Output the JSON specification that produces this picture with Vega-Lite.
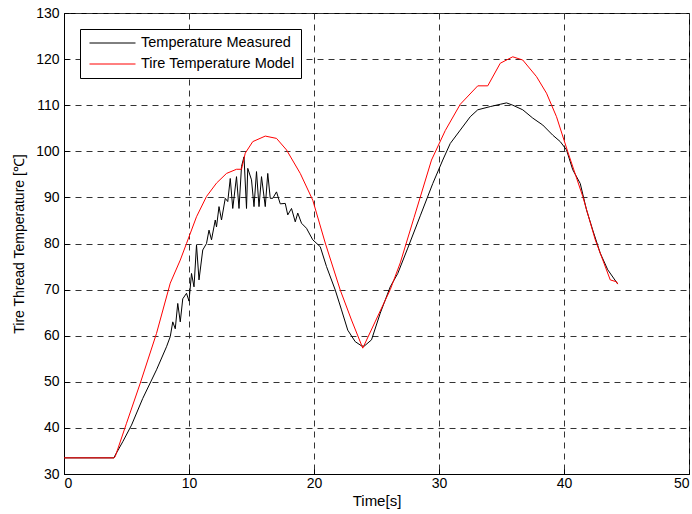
{
  "$schema": "https://vega.github.io/schema/vega-lite/v6.json",
  "width": 625,
  "height": 461,
  "autosize": {"type": "none"},
  "padding": {"left": 64, "top": 13, "right": 3, "bottom": 40},
  "background": "white",
  "config": {
    "view": {"stroke": "black", "strokeWidth": 1},
    "font": "Liberation Sans",
    "axis": {
      "domainColor": "black",
      "grid": true,
      "gridColor": "#333",
      "gridDash": [6, 5],
      "gridOpacity": 1,
      "gridWidth": 1,
      "ticks": true,
      "tickSize": -5,
      "tickColor": "black",
      "labelFont": "Liberation Sans",
      "labelFontSize": 14,
      "labelColor": "black",
      "titleFont": "Liberation Sans",
      "titleFontWeight": "normal",
      "titleColor": "black"
    }
  },
  "data": {"values": [
    {"t": 0, "v": 33.5, "s": "Temperature Measured"},
    {"t": 4.0, "v": 33.5, "s": "Temperature Measured"},
    {"t": 4.1, "v": 34.1, "s": "Temperature Measured"},
    {"t": 4.7, "v": 37, "s": "Temperature Measured"},
    {"t": 5.4, "v": 40.6, "s": "Temperature Measured"},
    {"t": 6.3, "v": 46.4, "s": "Temperature Measured"},
    {"t": 7.4, "v": 52.6, "s": "Temperature Measured"},
    {"t": 8.2, "v": 57.6, "s": "Temperature Measured"},
    {"t": 8.5, "v": 59.8, "s": "Temperature Measured"},
    {"t": 8.7, "v": 63, "s": "Temperature Measured"},
    {"t": 8.9, "v": 61.5, "s": "Temperature Measured"},
    {"t": 9.1, "v": 67, "s": "Temperature Measured"},
    {"t": 9.3, "v": 63, "s": "Temperature Measured"},
    {"t": 9.5, "v": 68, "s": "Temperature Measured"},
    {"t": 9.8, "v": 69.2, "s": "Temperature Measured"},
    {"t": 10.0, "v": 67.5, "s": "Temperature Measured"},
    {"t": 10.2, "v": 73.5, "s": "Temperature Measured"},
    {"t": 10.4, "v": 70.6, "s": "Temperature Measured"},
    {"t": 10.6, "v": 79.7, "s": "Temperature Measured"},
    {"t": 10.8, "v": 72.1, "s": "Temperature Measured"},
    {"t": 11.1, "v": 78.6, "s": "Temperature Measured"},
    {"t": 11.4, "v": 80, "s": "Temperature Measured"},
    {"t": 11.6, "v": 82.9, "s": "Temperature Measured"},
    {"t": 11.8, "v": 80.8, "s": "Temperature Measured"},
    {"t": 12.1, "v": 85.1, "s": "Temperature Measured"},
    {"t": 12.2, "v": 83.6, "s": "Temperature Measured"},
    {"t": 12.4, "v": 88, "s": "Temperature Measured"},
    {"t": 12.6, "v": 85.1, "s": "Temperature Measured"},
    {"t": 12.9, "v": 89.8, "s": "Temperature Measured"},
    {"t": 13.1, "v": 89.1, "s": "Temperature Measured"},
    {"t": 13.3, "v": 94.1, "s": "Temperature Measured"},
    {"t": 13.5, "v": 87.6, "s": "Temperature Measured"},
    {"t": 13.8, "v": 94.5, "s": "Temperature Measured"},
    {"t": 14.0, "v": 87.6, "s": "Temperature Measured"},
    {"t": 14.2, "v": 96.7, "s": "Temperature Measured"},
    {"t": 14.4, "v": 98.8, "s": "Temperature Measured"},
    {"t": 14.6, "v": 87.6, "s": "Temperature Measured"},
    {"t": 14.7, "v": 96.3, "s": "Temperature Measured"},
    {"t": 15.0, "v": 93.8, "s": "Temperature Measured"},
    {"t": 15.2, "v": 88, "s": "Temperature Measured"},
    {"t": 15.4, "v": 95.6, "s": "Temperature Measured"},
    {"t": 15.6, "v": 88, "s": "Temperature Measured"},
    {"t": 15.8, "v": 94.5, "s": "Temperature Measured"},
    {"t": 16.1, "v": 88, "s": "Temperature Measured"},
    {"t": 16.3, "v": 95.2, "s": "Temperature Measured"},
    {"t": 16.5, "v": 89.8, "s": "Temperature Measured"},
    {"t": 16.7, "v": 89.8, "s": "Temperature Measured"},
    {"t": 17.0, "v": 91.2, "s": "Temperature Measured"},
    {"t": 17.3, "v": 88.6, "s": "Temperature Measured"},
    {"t": 17.7, "v": 88.7, "s": "Temperature Measured"},
    {"t": 17.9, "v": 86.2, "s": "Temperature Measured"},
    {"t": 18.2, "v": 87.6, "s": "Temperature Measured"},
    {"t": 18.5, "v": 84.7, "s": "Temperature Measured"},
    {"t": 18.7, "v": 86.6, "s": "Temperature Measured"},
    {"t": 19.0, "v": 84.4, "s": "Temperature Measured"},
    {"t": 19.4, "v": 83.3, "s": "Temperature Measured"},
    {"t": 19.9, "v": 80.8, "s": "Temperature Measured"},
    {"t": 20.5, "v": 79.3, "s": "Temperature Measured"},
    {"t": 21.0, "v": 75, "s": "Temperature Measured"},
    {"t": 21.7, "v": 69.9, "s": "Temperature Measured"},
    {"t": 22.2, "v": 65.6, "s": "Temperature Measured"},
    {"t": 22.7, "v": 61.2, "s": "Temperature Measured"},
    {"t": 23.3, "v": 58.7, "s": "Temperature Measured"},
    {"t": 23.8, "v": 57.8, "s": "Temperature Measured"},
    {"t": 24.0, "v": 57.7, "s": "Temperature Measured"},
    {"t": 24.6, "v": 59.1, "s": "Temperature Measured"},
    {"t": 25.3, "v": 64.9, "s": "Temperature Measured"},
    {"t": 26.1, "v": 70.6, "s": "Temperature Measured"},
    {"t": 26.7, "v": 73.5, "s": "Temperature Measured"},
    {"t": 27.5, "v": 79, "s": "Temperature Measured"},
    {"t": 28.5, "v": 86, "s": "Temperature Measured"},
    {"t": 29.5, "v": 93, "s": "Temperature Measured"},
    {"t": 30.3, "v": 98.1, "s": "Temperature Measured"},
    {"t": 30.9, "v": 101.7, "s": "Temperature Measured"},
    {"t": 31.7, "v": 104.6, "s": "Temperature Measured"},
    {"t": 32.5, "v": 107.5, "s": "Temperature Measured"},
    {"t": 33.1, "v": 109, "s": "Temperature Measured"},
    {"t": 34.1, "v": 109.7, "s": "Temperature Measured"},
    {"t": 34.9, "v": 110.2, "s": "Temperature Measured"},
    {"t": 35.4, "v": 110.5, "s": "Temperature Measured"},
    {"t": 35.9, "v": 110, "s": "Temperature Measured"},
    {"t": 36.7, "v": 109, "s": "Temperature Measured"},
    {"t": 37.5, "v": 107.2, "s": "Temperature Measured"},
    {"t": 38.3, "v": 105.7, "s": "Temperature Measured"},
    {"t": 39.1, "v": 103.5, "s": "Temperature Measured"},
    {"t": 39.7, "v": 102.1, "s": "Temperature Measured"},
    {"t": 40.2, "v": 100.3, "s": "Temperature Measured"},
    {"t": 40.7, "v": 96, "s": "Temperature Measured"},
    {"t": 41.3, "v": 93, "s": "Temperature Measured"},
    {"t": 41.8, "v": 87.3, "s": "Temperature Measured"},
    {"t": 42.3, "v": 82.9, "s": "Temperature Measured"},
    {"t": 42.9, "v": 77.9, "s": "Temperature Measured"},
    {"t": 43.5, "v": 74.3, "s": "Temperature Measured"},
    {"t": 44.3, "v": 71.2, "s": "Temperature Measured"},
    {"t": 0, "v": 33.5, "s": "Tire Temperature Model"},
    {"t": 4.0, "v": 33.5, "s": "Tire Temperature Model"},
    {"t": 4.1, "v": 33.8, "s": "Tire Temperature Model"},
    {"t": 5.0, "v": 41, "s": "Tire Temperature Model"},
    {"t": 6.1, "v": 49.7, "s": "Tire Temperature Model"},
    {"t": 7.4, "v": 60.5, "s": "Tire Temperature Model"},
    {"t": 8.5, "v": 71.4, "s": "Tire Temperature Model"},
    {"t": 9.3, "v": 76.4, "s": "Tire Temperature Model"},
    {"t": 9.8, "v": 80, "s": "Tire Temperature Model"},
    {"t": 10.6, "v": 85.8, "s": "Tire Temperature Model"},
    {"t": 11.4, "v": 90.2, "s": "Tire Temperature Model"},
    {"t": 12.2, "v": 93.1, "s": "Tire Temperature Model"},
    {"t": 13.0, "v": 95.2, "s": "Tire Temperature Model"},
    {"t": 13.8, "v": 96.1, "s": "Tire Temperature Model"},
    {"t": 14.2, "v": 96.1, "s": "Tire Temperature Model"},
    {"t": 14.5, "v": 99.6, "s": "Tire Temperature Model"},
    {"t": 15.1, "v": 102.1, "s": "Tire Temperature Model"},
    {"t": 16.1, "v": 103.3, "s": "Tire Temperature Model"},
    {"t": 17.0, "v": 102.8, "s": "Tire Temperature Model"},
    {"t": 17.8, "v": 100.3, "s": "Tire Temperature Model"},
    {"t": 18.9, "v": 95.2, "s": "Tire Temperature Model"},
    {"t": 19.9, "v": 89.4, "s": "Tire Temperature Model"},
    {"t": 20.9, "v": 80.1, "s": "Tire Temperature Model"},
    {"t": 22.1, "v": 69.9, "s": "Tire Temperature Model"},
    {"t": 23.0, "v": 63.4, "s": "Tire Temperature Model"},
    {"t": 23.9, "v": 57.3, "s": "Tire Temperature Model"},
    {"t": 26.1, "v": 70, "s": "Tire Temperature Model"},
    {"t": 26.9, "v": 75.8, "s": "Tire Temperature Model"},
    {"t": 28.0, "v": 85.6, "s": "Tire Temperature Model"},
    {"t": 29.4, "v": 98.1, "s": "Tire Temperature Model"},
    {"t": 30.5, "v": 104.5, "s": "Tire Temperature Model"},
    {"t": 31.7, "v": 110.2, "s": "Tire Temperature Model"},
    {"t": 33.1, "v": 114.2, "s": "Tire Temperature Model"},
    {"t": 33.9, "v": 114.2, "s": "Tire Temperature Model"},
    {"t": 34.9, "v": 119.1, "s": "Tire Temperature Model"},
    {"t": 35.9, "v": 120.5, "s": "Tire Temperature Model"},
    {"t": 36.7, "v": 119.8, "s": "Tire Temperature Model"},
    {"t": 37.8, "v": 116.2, "s": "Tire Temperature Model"},
    {"t": 38.6, "v": 112.6, "s": "Tire Temperature Model"},
    {"t": 39.4, "v": 107.5, "s": "Tire Temperature Model"},
    {"t": 40.3, "v": 99.9, "s": "Tire Temperature Model"},
    {"t": 41.5, "v": 90.2, "s": "Tire Temperature Model"},
    {"t": 42.5, "v": 80.8, "s": "Tire Temperature Model"},
    {"t": 43.7, "v": 72.1, "s": "Tire Temperature Model"},
    {"t": 44.2, "v": 71.7, "s": "Tire Temperature Model"},
    {"t": 44.3, "v": 71.2, "s": "Tire Temperature Model"}
  ]},
  "mark": {"type": "line", "strokeWidth": 1, "clip": true},
  "encoding": {
    "x": {
      "field": "t", "type": "quantitative",
      "scale": {"domain": [0, 50], "nice": false},
      "axis": {"title": "Time[s]", "titleFontSize": 15, "values": [0, 10, 20, 30, 40, 50], "labelPadding": 7, "titlePadding": 3}
    },
    "y": {
      "field": "v", "type": "quantitative",
      "scale": {"domain": [30, 130], "nice": false, "zero": false},
      "axis": {"title": "Tire Thread Temperature [℃]", "titleFontSize": 14, "values": [30, 40, 50, 60, 70, 80, 90, 100, 110, 120, 130], "labelPadding": 10, "titlePadding": 9}
    },
    "color": {
      "field": "s", "type": "nominal",
      "scale": {"domain": ["Temperature Measured", "Tire Temperature Model"], "range": ["black", "#ff0000"]},
      "legend": {
        "title": null,
        "orient": "none",
        "legendX": 16,
        "legendY": 16,
        "symbolType": "stroke",
        "symbolSize": 2116,
        "symbolStrokeWidth": 1,
        "symbolOffset": 3,
        "clipHeight": 16,
        "labelFont": "Liberation Sans",
        "labelFontSize": 14.5,
        "labelColor": "black",
        "strokeColor": "black",
        "fillColor": "white",
        "padding": 6,
        "rowPadding": 5,
        "labelOffset": 5
      }
    }
  }
}
